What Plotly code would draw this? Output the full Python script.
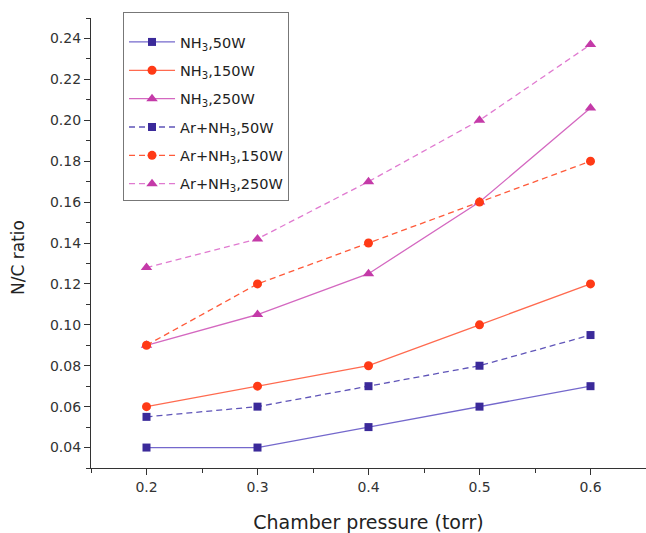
import plotly.graph_objects as go

pressure = [0.2, 0.3, 0.4, 0.5, 0.6]
nh3_50 = [0.040, 0.040, 0.050, 0.060, 0.070]
nh3_150 = [0.060, 0.070, 0.080, 0.100, 0.120]
nh3_250 = [0.090, 0.105, 0.125, 0.160, 0.206]
ar_50 = [0.055, 0.060, 0.070, 0.080, 0.095]
ar_150 = [0.090, 0.120, 0.140, 0.160, 0.180]
ar_250 = [0.128, 0.142, 0.170, 0.200, 0.237]

names = ["NH<sub>3</sub>,50W", "NH<sub>3</sub>,150W", "NH<sub>3</sub>,250W",
         "Ar+NH<sub>3</sub>,50W", "Ar+NH<sub>3</sub>,150W", "Ar+NH<sub>3</sub>,250W"]
series = [nh3_50, nh3_150, nh3_250, ar_50, ar_150, ar_250]
line_colors = ["#7468cc", "#ff6a4f", "#d468c0", "#5f54b8", "#ff5a3a", "#e07ad0"]
marker_colors = ["#3b2a9a", "#ff3a16", "#c43aa8", "#3b2a9a", "#ff3a16", "#c43aa8"]
symbols = ["square", "circle", "triangle-up", "square", "circle", "triangle-up"]
dashes = ["solid", "solid", "solid", "6px,4px", "6px,4px", "6px,4px"]
sizes = [8, 9, 10, 8, 9, 10]

FONT = "DejaVu Sans, Liberation Sans, Arial"

fig = go.Figure()
for i, (nm, ys, lc, mc, sy, ds, sz) in enumerate(zip(names, series, line_colors, marker_colors, symbols, dashes, sizes)):
    fig.add_trace(go.Scatter(
        x=pressure, y=ys, name=nm, mode="lines+markers", legendgroup=f"g{i}",
        line=dict(color=lc, width=1.3, dash=ds),
        marker=dict(color=mc, symbol=sy, size=sz),
    ))

axis_common = dict(
    showgrid=False, zeroline=False, showline=True, linecolor="#333", linewidth=1.2,
    ticks="outside", tickcolor="#333", ticklen=6, tickwidth=1.2,
    tickfont=dict(family=FONT, size=14, color="#333"),
    mirror=False,
)
fig.update_xaxes(range=[0.15, 0.65], dtick=0.1, tick0=0.2, tickformat=".1f",
                 title=dict(text="Chamber pressure (torr)", font=dict(family=FONT, size=19, color="#222"), standoff=21),
                 minor=dict(dtick=0.05, tick0=0.15, ticks="outside", ticklen=4, tickcolor="#333"),
                 **axis_common)
fig.update_yaxes(range=[0.03, 0.25], dtick=0.02, tick0=0.04, tickformat=".2f",
                 minor=dict(dtick=0.01, ticks="outside", ticklen=4, tickcolor="#333"),
                 **axis_common)

fig.add_annotation(text="N/C ratio", xref="paper", yref="paper", x=0, y=0.4667,
                   xanchor="center", yanchor="middle", xshift=-73, textangle=-90,
                   showarrow=False, font=dict(family=FONT, size=17, color="#222"))

fig.update_layout(
    width=646, height=533,
    margin=dict(l=91, r=0, t=18, b=65),
    paper_bgcolor="white", plot_bgcolor="white",
    font=dict(family=FONT, color="#222"),
    legend=dict(x=0.0577, y=1.0133, xanchor="left", yanchor="top",
                bordercolor="#777", borderwidth=1, bgcolor="white",
                font=dict(family=FONT, size=14.5, color="#222"),
                title=dict(text=" ", font=dict(size=10)),
                tracegroupgap=6.5, itemwidth=46),
    showlegend=True,
)

fig.write_html("out.html", config={"displayModeBar": False},
               post_script="document.body.style.margin='0px';document.body.style.overflow='hidden';")
